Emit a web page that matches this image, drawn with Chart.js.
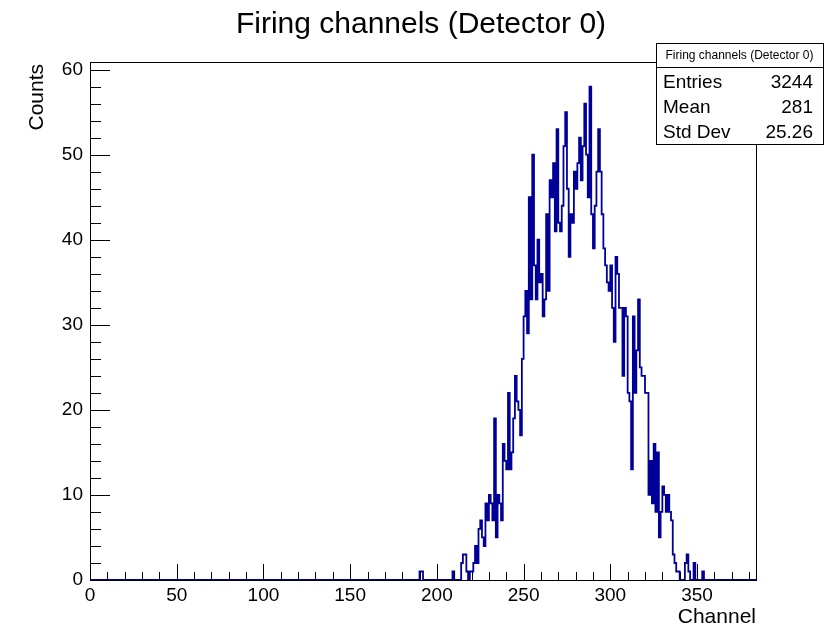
<!DOCTYPE html>
<html>
<head>
<meta charset="utf-8">
<script src="https://cdn.jsdelivr.net/npm/chart.js@4.4.1/dist/chart.umd.min.js"></script>
<style>
  html, body { margin: 0; padding: 0; background: #fff; }
  canvas { display: block; }
</style>
</head>
<body>
<canvas id="canvas" width="838" height="628"></canvas>
<script>
var TITLE = 'Firing channels (Detector 0)';
var X_LABEL = 'Channel';
var Y_LABEL = 'Counts';
var NBINS = 384;
var Y_MAX = 60.9;

// single count sitting in the very first bin
var firstBinCount = 1;

// counts per channel, starting at channel 190 (10 per row)
var peakStart = 190;
var peakCounts = [
    0, 1, 1, 0, 0, 0, 0, 0, 0, 0,
    0, 0, 0, 0, 0, 0, 0, 0, 0, 0,
    1, 0, 0, 0, 0, 2, 3, 3, 1, 0,
    1, 1, 2, 4, 2, 6, 7, 5, 4, 9,
    7, 10, 9, 7, 19, 5, 10, 9, 7, 16,
    14, 13, 22, 13, 15, 19, 24, 21, 20, 17,
    26, 31, 34, 29, 45, 33, 50, 37, 33, 40,
    35, 36, 31, 33, 43, 34, 47, 45, 49, 41,
    53, 42, 41, 44, 51, 55, 46, 38, 43, 42,
    48, 46, 49, 52, 47, 51, 56, 50, 45, 58,
    43, 39, 44, 48, 53, 48, 43, 39, 37, 35,
    34, 37, 32, 28, 38, 36, 32, 32, 24, 32,
    31, 22, 21, 13, 31, 22, 27, 33, 25, 24,
    24, 22, 22, 10, 14, 9, 16, 8, 15, 5,
    8, 11, 10, 8, 10, 8, 7, 3, 2, 1,
    1, 0, 0, 0, 2, 3, 1, 0, 0, 2,
    0, 0, 0, 0, 1
];

var statNames = ['Entries', 'Mean', 'Std Dev'];
var statValues = ['3244', '281', '25.26'];

// full histogram, one entry per channel
var counts = [];
for (var i = 0; i < NBINS; i++) counts.push(0);
counts[0] = firstBinCount;
peakCounts.forEach(function(v, k) { counts[peakStart + k] = v; });

var points = counts.map(function(v, i) { return {x: i, y: v}; });
points.push({x: NBINS, y: counts[NBINS - 1]});

var FONT = '"Liberation Sans", Arial, Helvetica, sans-serif';

// ROOT-style frame, inward ticks, titles and the stats box
var rootStyle = {
    id: 'rootStyle',
    afterDraw: function(chart) {
        var ctx = chart.ctx;
        var a = chart.chartArea;
        var xs = chart.scales.x, ys = chart.scales.y;
        ctx.save();
        ctx.strokeStyle = '#000';
        ctx.lineWidth = 1;
        ctx.strokeRect(Math.round(a.left) + 0.5, Math.round(a.top) + 0.5,
            Math.round(a.right - a.left), Math.round(a.bottom - a.top));

        ctx.beginPath();
        for (var v = 0; v <= NBINS; v += 10) {
            var px = Math.round(xs.getPixelForValue(v)) + 0.5;
            var len = (v % 50 === 0) ? 16 : 8;
            ctx.moveTo(px, a.bottom);
            ctx.lineTo(px, a.bottom - len);
        }
        for (var c = 0; c <= Y_MAX; c += 2) {
            var py = Math.round(ys.getPixelForValue(c)) + 0.5;
            var l2 = (c % 10 === 0) ? 20 : 11;
            ctx.moveTo(a.left, py);
            ctx.lineTo(a.left + l2, py);
        }
        ctx.stroke();

        ctx.fillStyle = '#000';
        ctx.font = '30px ' + FONT;
        ctx.textAlign = 'center';
        ctx.textBaseline = 'alphabetic';
        ctx.fillText(TITLE, 421, 33);

        ctx.font = '21px ' + FONT;
        ctx.textAlign = 'right';
        ctx.fillText(X_LABEL, a.right, 623);

        ctx.save();
        ctx.translate(43, 64);
        ctx.rotate(-Math.PI / 2);
        ctx.textAlign = 'right';
        ctx.fillText(Y_LABEL, 0, 0);
        ctx.restore();

        // stats box
        var bx = 656, by = 43, bw = 167, bh = 101;
        ctx.fillStyle = '#fff';
        ctx.fillRect(bx, by, bw, bh);
        ctx.strokeRect(bx + 0.5, by + 0.5, bw, bh);
        ctx.beginPath();
        ctx.moveTo(bx, 67.5);
        ctx.lineTo(bx + bw, 67.5);
        ctx.stroke();
        ctx.fillStyle = '#000';
        ctx.font = '12px ' + FONT;
        ctx.textAlign = 'center';
        ctx.textBaseline = 'middle';
        ctx.fillText(TITLE, bx + bw / 2, 56);
        ctx.font = '19px ' + FONT;
        for (var s = 0; s < statNames.length; s++) {
            var ty = 83 + s * 25;
            ctx.textAlign = 'left';
            ctx.fillText(statNames[s], 663, ty);
            ctx.textAlign = 'right';
            ctx.fillText(statValues[s], 813, ty);
        }
        ctx.restore();
    }
};

window.onload = function() {
    var ctx = document.getElementById('canvas').getContext('2d');
    window.myHist = new Chart(ctx, {
        type: 'line',
        data: {
            datasets: [{
                label: TITLE,
                data: points,
                stepped: 'after',
                borderColor: '#000099',
                borderWidth: 1.8,
                pointRadius: 0,
                fill: false
            }]
        },
        options: {
            responsive: false,
            animation: false,
            layout: {
                padding: {top: 62, right: 82, left: 0, bottom: 0}
            },
            plugins: {
                legend: {display: false},
                tooltip: {enabled: false},
                title: {display: false}
            },
            scales: {
                x: {
                    type: 'linear',
                    min: 0,
                    max: NBINS,
                    grid: {display: false, drawTicks: false},
                    border: {display: false},
                    ticks: {
                        stepSize: 50,
                        includeBounds: false,
                        maxRotation: 0,
                        padding: 4,
                        color: '#000',
                        font: {family: FONT, size: 19}
                    },
                    afterFit: function(scale) { scale.height = 48; }
                },
                y: {
                    min: 0,
                    max: Y_MAX,
                    grid: {display: false, drawTicks: false},
                    border: {display: false},
                    ticks: {
                        stepSize: 10,
                        includeBounds: false,
                        padding: 7,
                        color: '#000',
                        font: {family: FONT, size: 19}
                    },
                    afterFit: function(scale) { scale.width = 90; }
                }
            }
        },
        plugins: [rootStyle]
    });
};
</script>
</body>
</html>
